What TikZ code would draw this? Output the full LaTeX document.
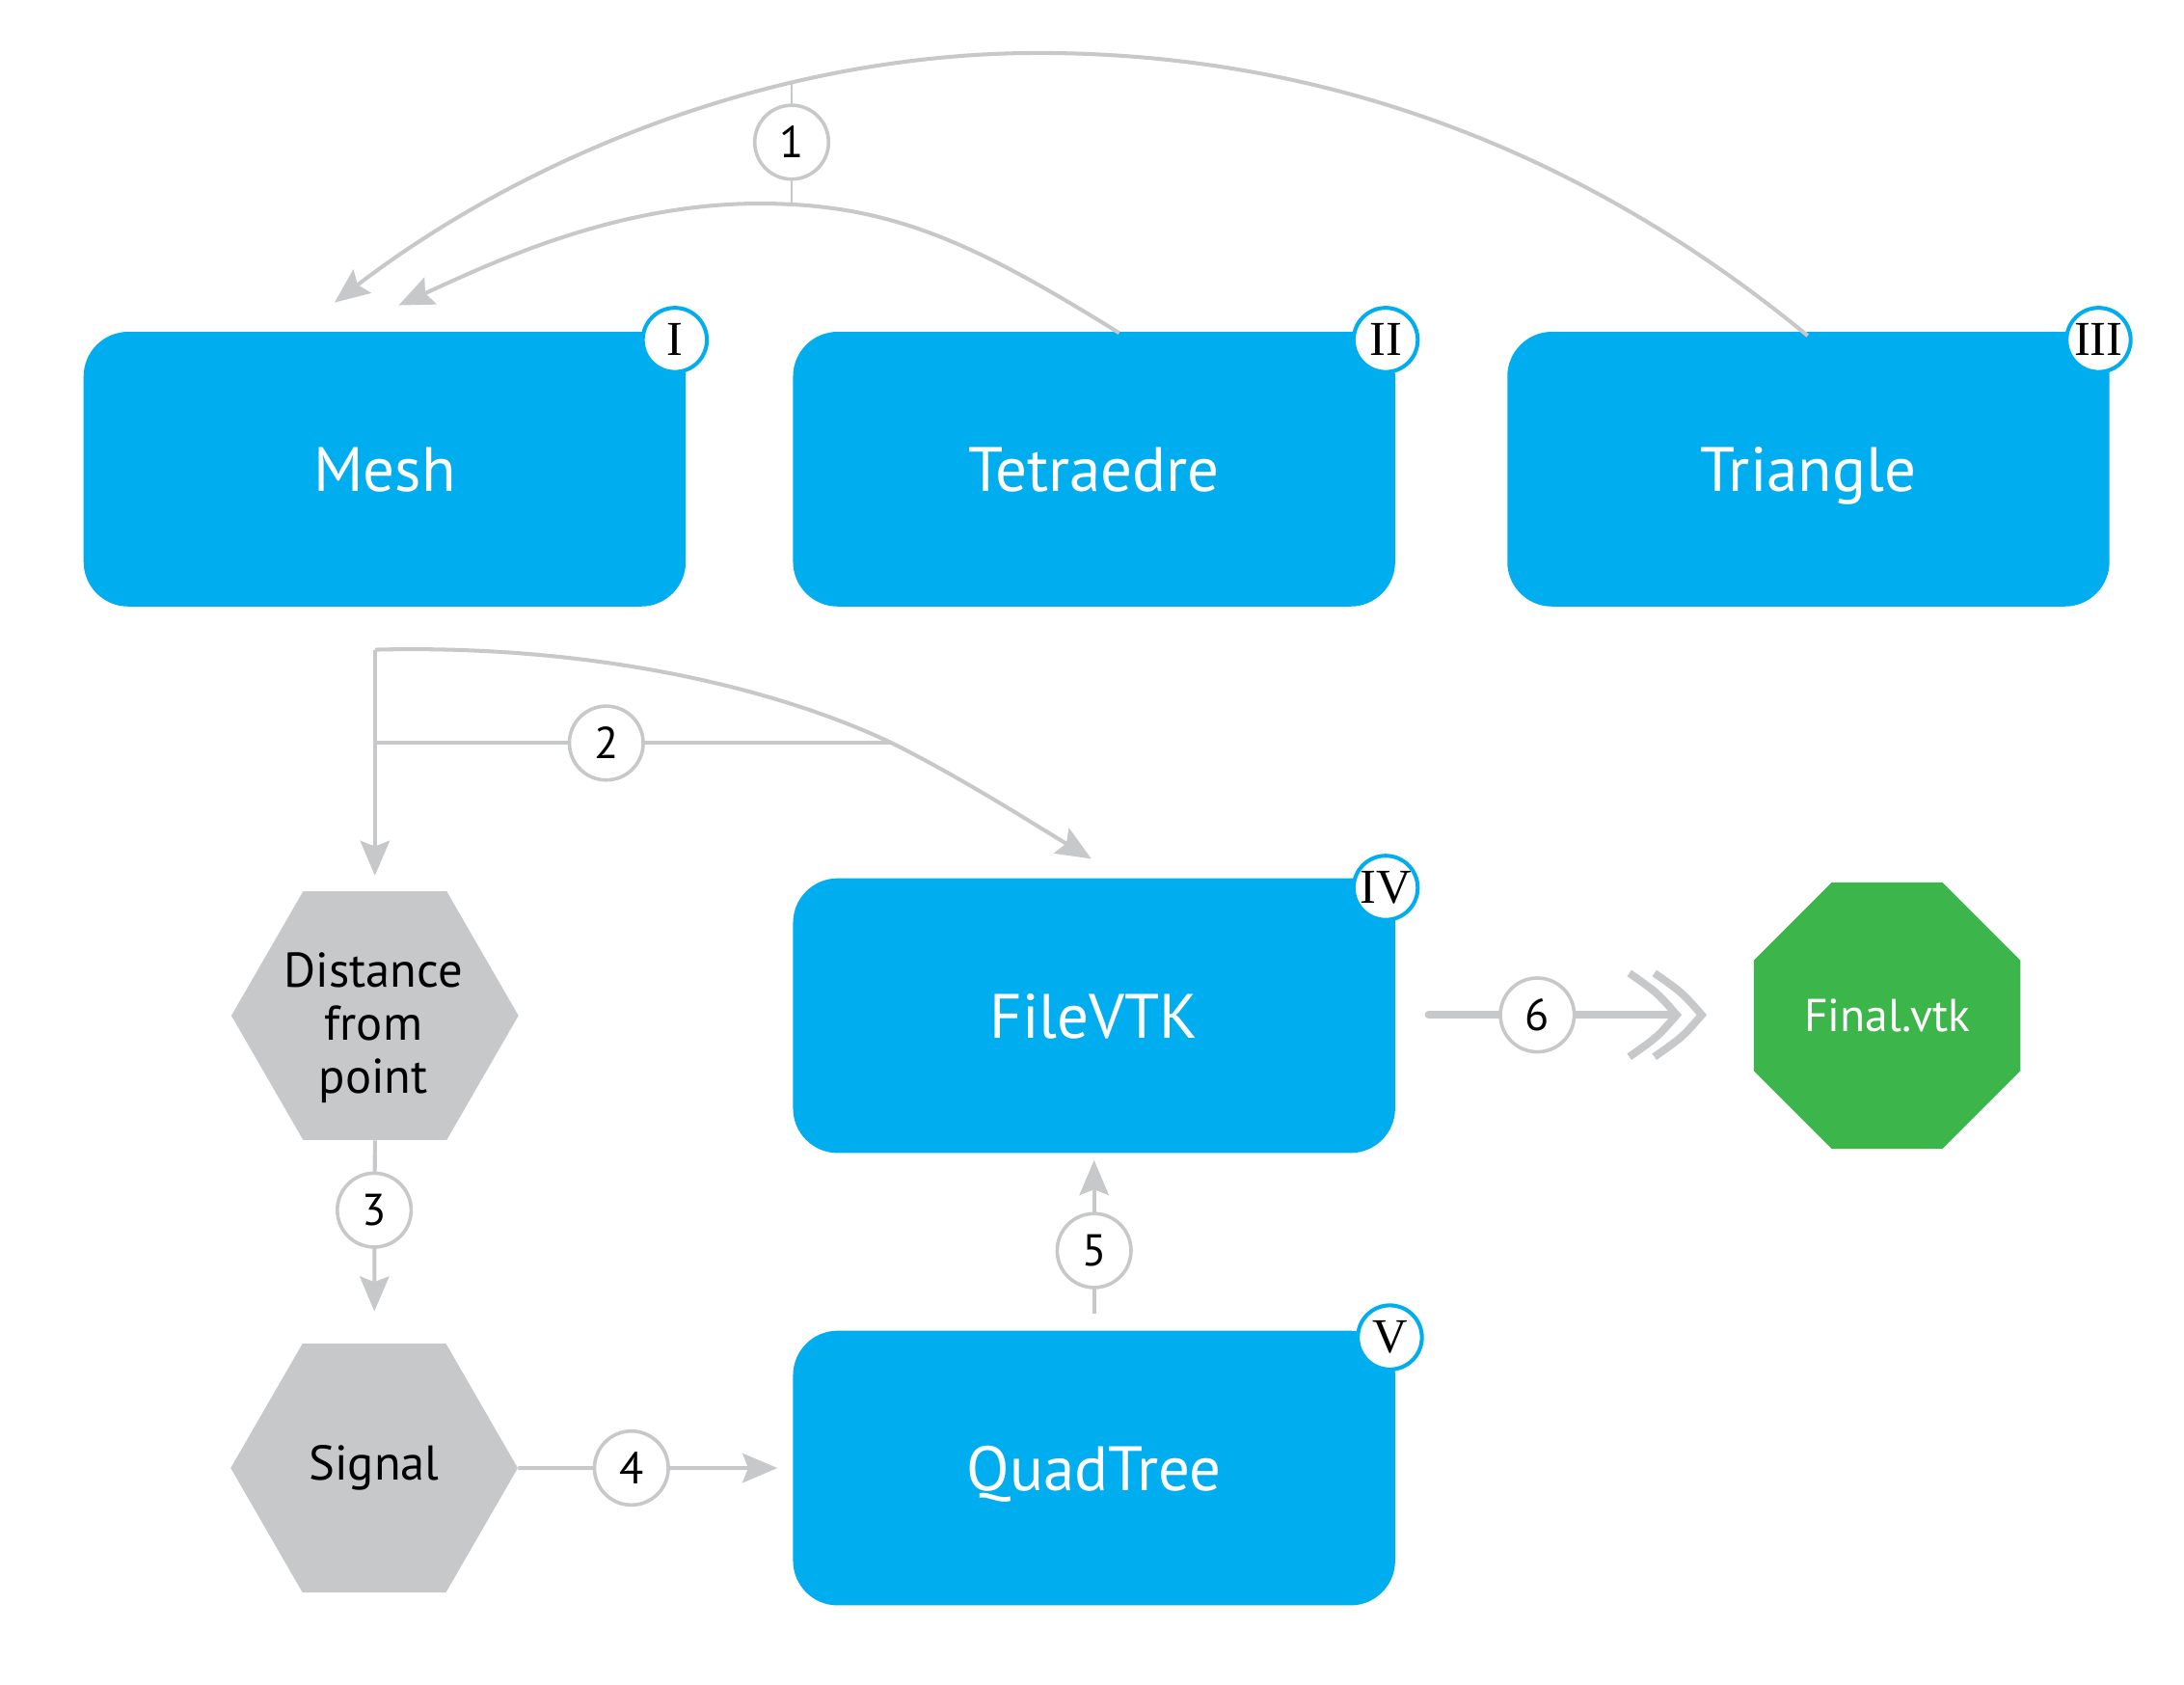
\documentclass[tikz,border=0pt]{standalone}
\usepackage{fontspec}
\setmainfont{PT Sans}
\newfontfamily\romfont{Liberation Serif}
\usetikzlibrary{shapes.geometric,arrows.meta,calc}
\definecolor{boxblue}{HTML}{00AEEF}
\definecolor{linegray}{HTML}{C7C8CA}
\definecolor{hexgray}{HTML}{C7C8CA}
\definecolor{octgreen}{HTML}{3CB54A}
\tikzset{
  bluebox/.style={rectangle, rounded corners=32pt, fill=boxblue, minimum width=432pt,
    minimum height=197pt, inner sep=0pt, text=white, text height=32pt, text depth=0pt,
    font=\fontsize{45}{54}\selectfont},
  badge/.style={circle, draw=boxblue, line width=2.8pt, fill=white, minimum size=46pt,
    inner sep=0pt, font=\romfont\fontsize{35}{40}\selectfont},
  hexa/.style={regular polygon, regular polygon sides=6, minimum size=206pt, inner sep=0pt,
    fill=hexgray, font=\fontsize{35}{38}\selectfont},
  hextext/.style={align=center, inner sep=0pt, font=\fontsize{35}{38}\selectfont},
  octa/.style={regular polygon, regular polygon sides=8, minimum size=207pt, inner sep=0pt,
    fill=octgreen, text=white, font=\fontsize{33}{38}\selectfont},
  numc/.style={circle, draw=linegray, line width=2.5pt, fill=white, minimum size=53pt,
    inner sep=0pt, font=\fontsize{32}{36}\selectfont},
  conn/.style={draw=linegray, line width=2.8pt},
  thinconn/.style={draw=linegray, line width=1.8pt},
  arr/.style={-{Stealth[length=25pt, width=21pt, inset=4pt]}},
  bigconn/.style={draw=linegray, line width=5.5pt},
}
\begin{document}
\begin{tikzpicture}[x=1pt,y=-1pt]
\useasboundingbox (0,0) rectangle (1567,1208);

% main nodes
\node[bluebox] (mesh) at (276,336.5) {Mesh};
\node[bluebox] (tet)  at (785,336.5) {Tetraedre};
\node[bluebox] (tri)  at (1297.5,336.5) {Triangle};
\node[bluebox] (fvtk) at (785,728.5) {FileVTK};
\node[bluebox] (quad) at (785,1053) {QuadTree};
\node[hexa] (dist) at (269,728.5) {};
\node[hextext] (distt) at (268,737) {Distance\\from\hspace*{10pt}\\point};
\node[hexa] (sig)  at (268.5,1053) {Signal};
\node[octa] (fin)  at (1354,728.5) {Final.vtk};

% badges
\node[badge] (b1) at ($(mesh.north east)+(-8,6)$) {I};
\node[badge] (b2) at ($(tet.north east)+(-7,6)$) {II};
\node[badge] (b3) at ($(tri.north east)+(-8,6)$) {III};
\node[badge] (b4) at ($(fvtk.north east)+(-7,7)$) {IV};
\node[badge] (b5) at ($(quad.north east)+(-4,5)$) {V};

% connector 1
\coordinate (a1) at (240,217);
\coordinate (a2) at (286,219);
\coordinate (top1) at (745,38);
\coordinate (top2) at (545,146);
\coordinate (v1a) at (568,58);
\coordinate (v1b) at (568,146);
\draw[conn,arr] ($(tri.north)+(-0.5,3)$) .. controls (1120,95) and (930,38) .. (top1)
   .. controls (560,38) and (380,110) .. (a1);
\draw[conn,arr] ($(tet.north)+(18,1)$) .. controls (700,175) and (640,146) .. (top2)
   .. controls (440,146) and (350,190) .. (a2);
\draw[thinconn] (v1a) -- (v1b);
\node[numc] (n1) at (568,102) {1};

% connector 2
\coordinate (c2) at (269,466);
\coordinate (c2m) at (640,533);
\coordinate (h2) at (269,533);
\coordinate (a3) at (783,616);
\draw[conn,arr,shorten >=11pt] (c2) -- (dist.north);
\draw[conn,arr] (c2) .. controls (430,462) and (560,495) .. (c2m)
   .. controls (690,558) and (740,590) .. (a3);
\draw[conn] (h2) -- (c2m);
\node[numc] (n2) at (435,533) {2};

% connector 3
\draw[conn,arr,shorten >=23pt] (dist.south) -- (sig.north);
\node[numc] (n3) at (268.5,868) {3};

% connector 4
\draw[conn,arr,shorten >=11pt] (sig.east) -- (quad.west);
\node[numc] (n4) at (453,1053) {4};

% connector 5
\draw[conn,arr,shorten <=12pt,shorten >=5pt] (quad.north) -- (fvtk.south);
\node[numc] (n5) at (785,897) {5};

% connector 6
\coordinate (s6) at (1025,728);
\coordinate (t6a) at (1203,728);
\coordinate (t6b) at (1221,728);
\draw[bigconn,line cap=round] (s6) -- ($(t6a)+(-3,0)$);
\draw[bigconn] ($(t6a)+(-34,-30)$) .. controls ($(t6a)+(-14,-16)$) .. (t6a)
   .. controls ($(t6a)+(-14,16)$) .. ($(t6a)+(-34,30)$);
\draw[bigconn] ($(t6b)+(-34,-30)$) .. controls ($(t6b)+(-14,-16)$) .. (t6b)
   .. controls ($(t6b)+(-14,16)$) .. ($(t6b)+(-34,30)$);
\node[numc] (n6) at (1103,728) {6};
\end{tikzpicture}
\end{document}
